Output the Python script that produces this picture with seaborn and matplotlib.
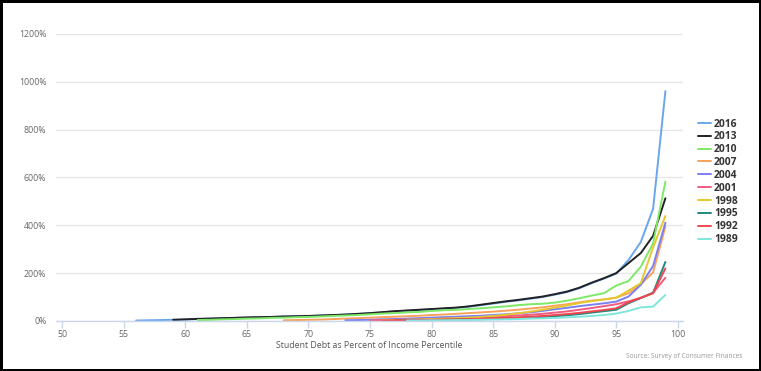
import matplotlib
matplotlib.use("Agg")
import matplotlib.pyplot as plt
import seaborn as sns
import pandas as pd
from matplotlib.ticker import FuncFormatter

sns.set_theme(style="white")
plt.rcParams['font.family'] = ['Open Sans', 'DejaVu Sans']

# percentile where each survey year starts, values run up to the 99th percentile
years = ["2016", "2013", "2010", "2007", "2004", "2001", "1998", "1995", "1992", "1989"]
start_pct = {"2016": 56, "2013": 59, "2010": 61, "2007": 68, "2004": 73,
             "2001": 75, "1998": 76, "1995": 77, "1992": 76, "1989": 78}

debt_2016 = [2, 3, 4, 5, 6, 8, 10, 11, 13, 14, 16, 17, 18, 20, 21, 23, 24, 27, 29, 32,
             36, 40, 43, 46, 49, 52, 55, 60, 66, 73, 80, 86, 93, 100, 110, 121, 137, 158,
             177, 198, 255, 330, 469, 961]
debt_2013 = [5, 7, 9, 10, 12, 13, 15, 16, 17, 19, 20, 21, 23, 25, 27, 30, 33, 37, 41, 44,
             47, 50, 53, 56, 61, 68, 75, 82, 88, 95, 102, 112, 123, 139, 160, 179, 200,
             242, 284, 356, 513]
debt_2010 = [4, 5, 7, 8, 10, 11, 13, 14, 16, 17, 19, 21, 23, 25, 28, 31, 33, 36, 38, 42,
             45, 47, 50, 53, 57, 61, 66, 70, 72, 77, 85, 95, 106, 116, 148, 167, 227, 325,
             583]
debt_2007 = [3, 4, 5, 6, 8, 10, 12, 14, 16, 18, 20, 22, 25, 27, 30, 33, 36, 39, 43, 47,
             52, 57, 64, 70, 78, 85, 90, 98, 116, 154, 203, 395]
debt_2004 = [3, 4, 5, 7, 8, 10, 12, 14, 16, 18, 20, 22, 25, 28, 32, 36, 42, 49, 55, 62,
             68, 74, 81, 102, 151, 230, 411]
debt_2001 = [3, 4, 5, 6, 7, 8, 9, 10, 12, 14, 17, 20, 23, 26, 30, 35, 40, 47, 54, 62, 70,
             82, 97, 118, 181]
debt_1998 = [3, 4, 5, 6, 8, 10, 12, 14, 17, 21, 26, 32, 39, 47, 56, 65, 75, 83, 90, 97,
             127, 158, 308, 439]
debt_1995 = [2, 3, 3, 4, 5, 6, 7, 8, 10, 11, 13, 15, 17, 20, 24, 29, 35, 41, 47, 74, 96,
             118, 247]
debt_1992 = [2, 3, 3, 4, 5, 6, 7, 8, 10, 12, 13, 15, 18, 21, 25, 29, 34, 40, 46, 53, 78,
             97, 116, 220]
debt_1989 = [2, 2, 3, 3, 4, 4, 5, 6, 7, 8, 10, 11, 13, 15, 18, 21, 25, 31, 42, 57, 60, 109]

series = {"2016": debt_2016, "2013": debt_2013, "2010": debt_2010, "2007": debt_2007,
          "2004": debt_2004, "2001": debt_2001, "1998": debt_1998, "1995": debt_1995,
          "1992": debt_1992, "1989": debt_1989}

colors = {"2016": "#6aa7ea", "2013": "#222226", "2010": "#7ee868", "2007": "#f7a35c",
          "2004": "#7b7ff0", "2001": "#f15c80", "1998": "#e4c830", "1995": "#1f8a80",
          "1992": "#f0474f", "1989": "#7fe6dc"}

rows = []
for yr in years:
    for i, v in enumerate(series[yr]):
        rows.append({"year": yr, "percentile": start_pct[yr] + i, "debt": v})
df = pd.DataFrame(rows)

fig = plt.figure(figsize=(7.61, 3.71), dpi=100, linewidth=2.5, edgecolor="black")
ax = fig.add_axes([56 / 761, 1 - 321 / 371, (683 - 56) / 761, (321 - 34) / 371])

sns.lineplot(data=df, x="percentile", y="debt", hue="year", hue_order=years,
             palette=colors, linewidth=1.4, ax=ax, legend=True, clip_on=False)

ax.set_xlim(49.49, 100.43)
ax.set_ylim(0, 1200)
ax.set_xticks(range(50, 101, 5))
ax.set_yticks(range(0, 1201, 200))
ax.yaxis.set_major_formatter(FuncFormatter(lambda v, p: f"{int(v)}%"))
ax.grid(axis="y", color="#e6e6e6", linewidth=1)
ax.grid(axis="x", visible=False)
for s in ["top", "right", "left"]:
    ax.spines[s].set_visible(False)
ax.spines["bottom"].set_color("#ccd6eb")
ax.spines["bottom"].set_linewidth(1)
ax.tick_params(axis="x", length=5, width=1, color="#ccd6eb", pad=1.5,
               labelsize=6.3, labelcolor="#666666", bottom=True)
ax.tick_params(axis="y", length=0, pad=7, labelsize=6.3, labelcolor="#666666")
ax.set_xlabel("Student Debt as Percent of Income Percentile", fontsize=6.35,
              color="#555555", labelpad=1.5)
ax.set_ylabel("")

handles, labels = ax.get_legend_handles_labels()
leg = ax.legend(handles, labels, loc="upper left", bbox_to_anchor=(698 / 761, 1 - 118.5 / 371),
                bbox_transform=fig.transFigure, frameon=False,
                prop={"weight": "bold", "size": 7.4}, borderaxespad=0,
                handlelength=1.25, handletextpad=0.3, labelspacing=0.18, borderpad=0)
for t in leg.get_texts():
    t.set_color("#333333")

fig.text(742 / 761, 1 - 357 / 371, "Source: Survey of Consumer Finances", ha="right",
         va="center", fontsize=4.75, color="#999999")

fig.savefig("out.png", dpi=100, edgecolor="black")
